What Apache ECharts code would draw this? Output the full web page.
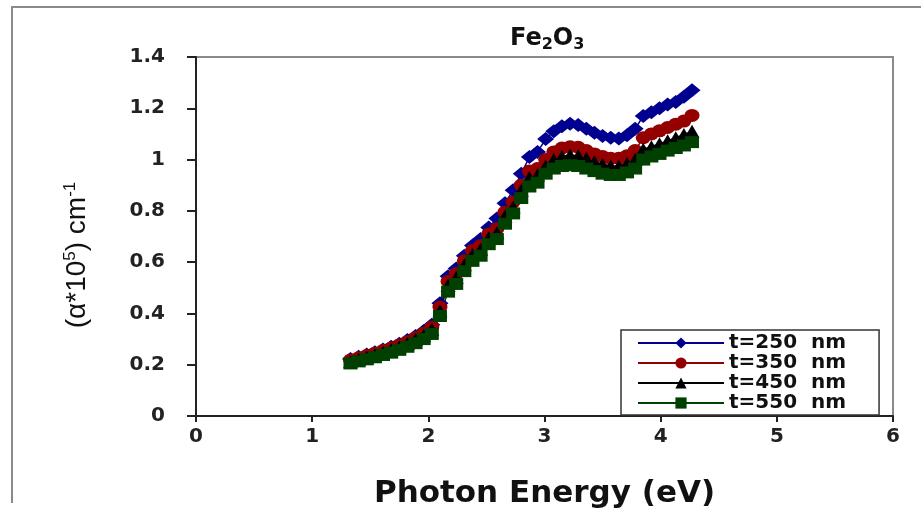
<!DOCTYPE html>
<html>
<head>
<meta charset="utf-8">
<script src="https://cdn.jsdelivr.net/npm/echarts@6/dist/echarts.min.js"></script>
<style>
html,body{margin:0;padding:0;background:#fff;}
#chart{width:921px;height:515px;}
</style>
</head>
<body>
<div id="chart"></div>
<script>
// ---- data ----
const energy = [1.33,1.40,1.47,1.54,1.61,1.68,1.75,1.82,1.89,1.96,2.03,2.10,2.17,2.24,2.31,2.38,2.45,2.52,2.59,2.66,2.73,2.80,2.87,2.94,3.01,3.08,3.15,3.22,3.29,3.36,3.43,3.50,3.57,3.64,3.71,3.78,3.85,3.92,3.99,4.06,4.13,4.20,4.27];
const alpha250 = [0.222,0.231,0.240,0.249,0.259,0.270,0.282,0.296,0.312,0.331,0.356,0.440,0.545,0.575,0.625,0.665,0.690,0.735,0.770,0.830,0.880,0.945,1.010,1.030,1.080,1.110,1.130,1.140,1.135,1.120,1.105,1.092,1.085,1.082,1.095,1.120,1.170,1.185,1.200,1.215,1.225,1.245,1.270];
const alpha350 = [0.218,0.227,0.236,0.245,0.255,0.265,0.277,0.290,0.305,0.323,0.347,0.425,0.525,0.555,0.605,0.645,0.665,0.710,0.730,0.795,0.835,0.900,0.955,0.965,1.000,1.030,1.045,1.050,1.048,1.035,1.022,1.012,1.005,1.005,1.015,1.035,1.085,1.100,1.112,1.125,1.138,1.150,1.172];
const alpha450 = [0.212,0.221,0.230,0.239,0.248,0.258,0.270,0.283,0.298,0.315,0.338,0.410,0.510,0.540,0.590,0.630,0.650,0.695,0.715,0.780,0.815,0.880,0.930,0.940,0.975,1.000,1.012,1.018,1.015,1.005,0.992,0.982,0.975,0.975,0.985,1.000,1.040,1.050,1.062,1.073,1.085,1.098,1.110];
const alpha550 = [0.205,0.213,0.221,0.229,0.238,0.247,0.258,0.270,0.284,0.300,0.320,0.390,0.485,0.515,0.565,0.605,0.625,0.670,0.690,0.750,0.790,0.850,0.895,0.910,0.945,0.965,0.975,0.978,0.975,0.965,0.955,0.945,0.940,0.940,0.950,0.965,1.000,1.012,1.022,1.035,1.045,1.055,1.068];
const seriesNames = ['t=250  nm','t=350  nm','t=450  nm','t=550  nm'];
const xRange = [0, 6, 1];
const yRange = [0, 1.4, 0.2];

// ---- chart ----
const colors = ['#000090','#940000','#000000','#004000'];
const symbols = ['diamond','circle','triangle','rect'];
const sizes = [[17,14],[15,13],[15,13],[14,12]];
const values = [alpha250, alpha350, alpha450, alpha550];
const boldFont = 'DejaVu Sans';

const chart = echarts.init(document.getElementById('chart'));
chart.setOption({
  animation: false,
  backgroundColor: '#fff',
  title: {
    text: '{a|Fe}{s|2}{a|O}{s|3}',
    left: 505, top: 20,
    textStyle: {
      rich: {
        a: {fontFamily: boldFont, fontWeight: 'bold', fontSize: 24, color: '#111'},
        s: {fontFamily: boldFont, fontWeight: 'bold', fontSize: 16, color: '#111', padding: [12,0,0,0]}
      }
    }
  },
  graphic: [
    {type: 'polyline', silent: true, shape: {points: [[12,503],[12,7],[921,7]]}, style: {stroke: '#8a8a8a', lineWidth: 2, fill: null}},
    {type: 'text', x: 77, y: 255, rotation: Math.PI/2,
     style: {
       text: '(α*10{sup|5}) cm{sup|-1}',
       font: '28px "Liberation Sans", Arial, sans-serif',
       fill: '#111', align: 'center', verticalAlign: 'middle',
       rich: {sup: {fontSize: 17, fontFamily: '"Liberation Sans", Arial, sans-serif', fill: '#111', padding: [0,0,14,0]}}
     }}
  ],
  grid: {left: 196, top: 57, width: 697, height: 359, show: true, borderColor: '#8a8a8a', borderWidth: 2, backgroundColor: 'transparent'},
  legend: {
    orient: 'vertical', left: 621, top: 330,
    itemWidth: 86, itemHeight: 14, itemGap: 0,
    padding: [3, 33, 2, 16],
    backgroundColor: '#fff', borderColor: '#333', borderWidth: 1.5, borderRadius: 0,
    textStyle: {fontFamily: boldFont, fontWeight: 'bold', fontSize: 20, lineHeight: 20, color: '#111'},
    data: seriesNames
  },
  xAxis: {
    type: 'value', min: xRange[0], max: xRange[1], interval: xRange[2],
    name: 'Photon Energy (eV)', nameLocation: 'middle', nameGap: 62,
    nameTextStyle: {fontFamily: boldFont, fontWeight: 'bold', fontSize: 31, color: '#111'},
    axisLine: {show: true, onZero: false, lineStyle: {color: '#222', width: 2}},
    axisTick: {show: true, inside: false, length: 6, lineStyle: {color: '#222', width: 2}},
    axisLabel: {margin: 11, fontFamily: boldFont, fontWeight: 'bold', fontSize: 20, color: '#222'},
    splitLine: {show: false}
  },
  yAxis: {
    type: 'value', min: yRange[0], max: yRange[1], interval: yRange[2],
    axisLine: {show: true, onZero: false, lineStyle: {color: '#222', width: 2}},
    axisTick: {show: true, inside: false, length: 9, lineStyle: {color: '#222', width: 2}},
    axisLabel: {margin: 31, fontFamily: boldFont, fontWeight: 'bold', fontSize: 20, color: '#222'},
    splitLine: {show: false}
  },
  series: values.map((vals, i) => ({
    name: seriesNames[i],
    type: 'line',
    data: energy.map((e, j) => [e, vals[j]]),
    symbol: symbols[i],
    symbolSize: sizes[i],
    showAllSymbol: true,
    color: colors[i],
    itemStyle: {color: colors[i]},
    lineStyle: {color: colors[i], width: 1.5},
    emphasis: {disabled: true}
  }))
});
</script>
</body>
</html>
